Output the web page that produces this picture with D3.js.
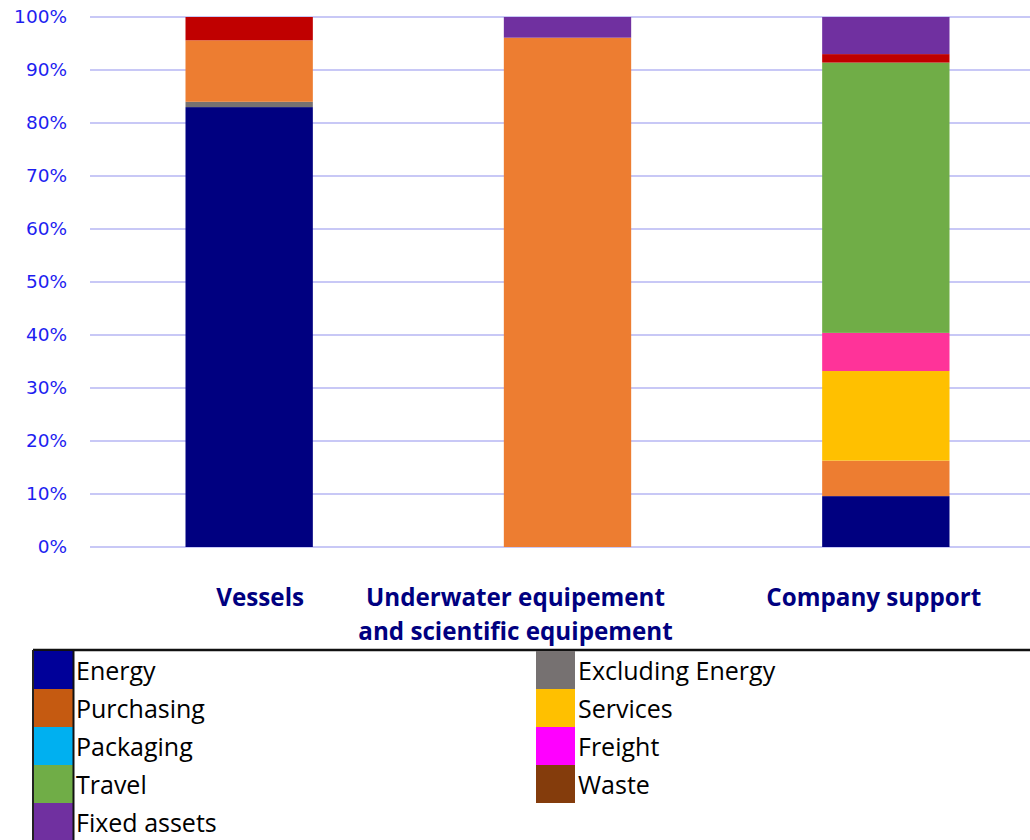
<!DOCTYPE html>
<html>
<head>
<meta charset="utf-8">
<script src="https://cdn.jsdelivr.net/npm/d3@7"></script>
<style>
  html, body { margin: 0; padding: 0; background: #fff; }
  svg { display: block; }
</style>
</head>
<body>
<svg id="chart" width="1030" height="840"></svg>
<script>
// Emission categories (x axis)
const categories = ["Vessels", "Underwater equipement\nand scientific equipement", "Company support"];

// Emission sources, stacked bottom to top
const sources = ["Energy", "Excluding Energy", "Purchasing", "Services", "Packaging", "Freight", "Travel", "Waste", "Fixed assets"];

// Share of each source per category (percent)
const energy          = [83.0, 0.0, 9.6];
const excludingEnergy = [1.0, 0.0, 0.0];
const purchasing      = [11.6, 96.1, 6.7];
const services        = [0.0, 0.0, 16.9];
const packaging       = [0.0, 0.0, 0.0];
const freight         = [0.0, 0.0, 7.2];
const travel          = [0.0, 0.0, 51.0];
const waste           = [4.4, 0.0, 1.6];
const fixedAssets     = [0.0, 3.9, 7.0];

const yTicks = [0, 10, 20, 30, 40, 50, 60, 70, 80, 90, 100];

// Fill colours used in the bars
const barColors = ["#000080", "#767171", "#ED7D31", "#FFC000", "#00B0F0", "#FF3399", "#70AD47", "#C00000", "#7030A0"];
// Fill colours used in the legend keys
const legendColors = ["#000099", "#767171", "#C55A11", "#FFC000", "#00B0F0", "#FF00FF", "#70AD47", "#843C0C", "#7030A0"];

const seriesValues = [energy, excludingEnergy, purchasing, services, packaging, freight, travel, waste, fixedAssets];

const rows = categories.map((c, i) => {
  const r = { category: c };
  sources.forEach((s, k) => { r[s] = seriesValues[k][i]; });
  return r;
});

const svg = d3.select("#chart");
const labelFont = "'Open Sans', Lato, sans-serif";
const tickFont = "'DejaVu Sans', Verdana, sans-serif";

const x = d3.scaleBand().domain(categories).range([90, 1045]).paddingInner(0.6).paddingOuter(0.3);
const y = d3.scaleLinear().domain([0, 100]).range([547, 17]);

// Gridlines
svg.append("g")
  .selectAll("line")
  .data(yTicks)
  .join("line")
  .attr("x1", 90).attr("x2", 1030)
  .attr("y1", d => y(d)).attr("y2", d => y(d))
  .attr("stroke", "#C8C8F6").attr("stroke-width", 2);

// Y axis labels
const yAxis = d3.axisLeft(y).tickValues(yTicks).tickFormat(d => d + "%").tickSize(0).tickPadding(0);
const gy = svg.append("g").attr("transform", "translate(67,0)").call(yAxis);
gy.select(".domain").remove();
gy.selectAll("text")
  .attr("font-family", tickFont)
  .attr("font-size", 18.5)
  .attr("fill", "#1E1EF0");

// Stacked bars
const stacked = d3.stack().keys(sources)(rows);
svg.append("g")
  .selectAll("g")
  .data(stacked)
  .join("g")
  .attr("fill", (d, i) => barColors[i])
  .selectAll("rect")
  .data(d => d)
  .join("rect")
  .attr("x", d => x(d.data.category))
  .attr("width", x.bandwidth())
  .attr("y", d => y(d[1]))
  .attr("height", d => y(d[0]) - y(d[1]));

// Category labels (slightly offset from the bar centres)
const labelShift = [11, -52, -12];
const cat = svg.append("g");
categories.forEach((c, i) => {
  const cx = x(c) + x.bandwidth() / 2 + labelShift[i];
  const t = cat.append("text")
    .attr("x", cx)
    .attr("y", 606)
    .attr("text-anchor", "middle")
    .attr("font-family", labelFont)
    .attr("font-weight", "bold")
    .attr("font-size", 24.2)
    .attr("fill", "#000080");
  c.split("\n").forEach((ln, j) => {
    t.append("tspan").attr("x", cx).attr("dy", j === 0 ? 0 : 34).text(ln);
  });
});

// Legend
const legend = svg.append("g");
const rowH = 38, legendTop = 651;
legend.append("line").attr("x1", 33).attr("x2", 1030).attr("y1", 650).attr("y2", 650)
  .attr("stroke", "#111").attr("stroke-width", 2.5);

sources.forEach((s, k) => {
  const col = k % 2, row = Math.floor(k / 2);
  const sx = col === 0 ? 34 : 536;
  const sy = legendTop + row * rowH;
  legend.append("rect").attr("x", sx).attr("y", sy).attr("width", 39).attr("height", rowH)
    .attr("fill", legendColors[k]);
  legend.append("text").attr("x", sx + 42).attr("y", sy + 29)
    .attr("font-family", labelFont).attr("font-size", 25).attr("fill", "#000")
    .text(s);
});
legend.append("line").attr("x1", 33).attr("x2", 33).attr("y1", 650).attr("y2", 840)
  .attr("stroke", "#222").attr("stroke-width", 2);
legend.append("line").attr("x1", 73.5).attr("x2", 73.5).attr("y1", 650).attr("y2", 840)
  .attr("stroke", "#111").attr("stroke-width", 2);
</script>
</body>
</html>
